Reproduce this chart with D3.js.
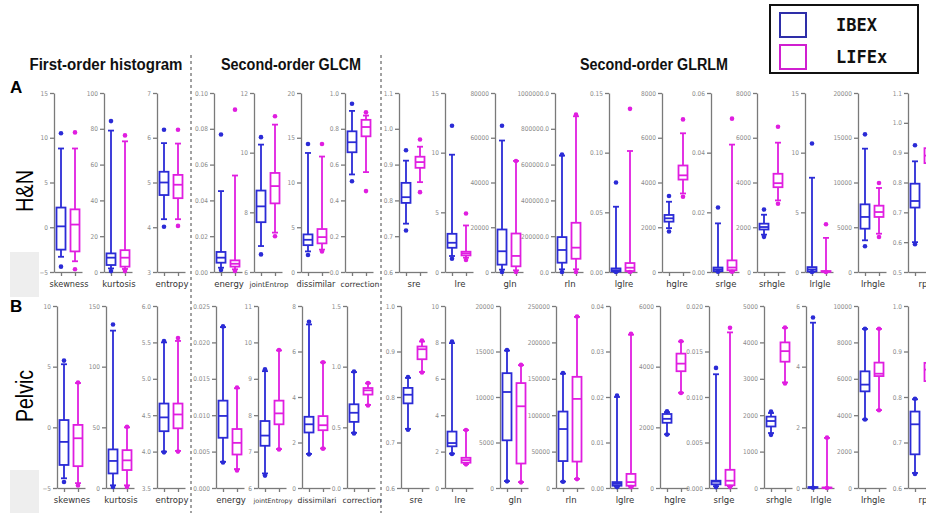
<!DOCTYPE html>
<meta charset="utf-8">
<style>
	body { margin: 0; background: #fff; overflow: hidden; }
	svg { display: block; }
	.yaxis path, .yaxis line, .xaxis path, .xaxis line { stroke: #7a7a7a; stroke-width: 1.3; }
	.yaxis text { fill: #8a8a8a; font-family: "DejaVu Sans Condensed", "DejaVu Sans", sans-serif; font-size: 6.5px; }
	.cat { fill: #333; font-family: "DejaVu Sans", sans-serif; font-size: 8.5px; text-anchor: middle; }
	.title { font-family: "Liberation Sans Narrow", "Liberation Sans", sans-serif; font-weight: bold; font-size: 16px; fill: #111; text-anchor: middle; }
	.legend { font-family: "DejaVu Sans Mono", monospace; font-weight: bold; font-size: 17px; fill: #111; }
</style>
<body>
<script src="https://d3js.org/d3.v7.min.js"></script>
<script>

	// features (one small panel each)
	var features = ["skewness", "kurtosis", "entropy", "energy", "jointEntropy", "dissimilar", "correction",
		"sre", "lre", "gln", "rln", "lglre", "hglre", "srlge", "srhgle", "lrlgle", "lrhgle", "rp"];
	var hnLabels = ["skewness", "kurtosis", "entropy", "energy", "jointEntrop", "dissimilar", "correction",
		"sre", "lre", "gln", "rln", "lglre", "hglre", "srlge", "srhgle", "lrlgle", "lrhgle", "rp"];
	var pelvicLabels = ["skewnes", "kurtosis", "entropy", "energy", "jointEntropy", "dissimilari", "correction",
		"sre", "lre", "gln", "rln", "lglre", "hglre", "srlge", "srhgle", "lrlgle", "lrhgle", "rp"];
	var series = ["IBEX", "LIFEx"];

	// y tick labels per panel, H&N
	var hnTicks = [
		[-5, 0, 5, 10, 15], [0, 20, 40, 60, 80, 100], [3, 4, 5, 6, 7],
		[0, 0.02, 0.04, 0.06, 0.08, 0.10], [6, 8, 10, 12], [0, 5, 10, 15, 20], [0, 0.2, 0.4, 0.6, 0.8, 1.0],
		[0.6, 0.7, 0.8, 0.9, 1.0, 1.1], [0, 5, 10, 15], [0, 20000, 40000, 60000, 80000],
		[0, 200000, 400000, 600000, 800000, 1000000], [0, 0.05, 0.10, 0.15], [0, 2000, 4000, 6000, 8000],
		[0, 0.02, 0.04, 0.06], [0, 2000, 4000, 6000, 8000], [0, 5, 10, 15], [0, 5000, 10000, 15000, 20000],
		[0.5, 0.6, 0.7, 0.8, 0.9, 1.0, 1.1]
	];
	var hnDecimals = [0, 0, 0, 2, 0, 0, 1, 1, 0, 0, 1, 2, 0, 2, 0, 0, 0, 1];

	// [low dot, low whisker, q1, median, q3, high whisker, high dot]
	var hnIBEX = [
		[-4.4, -3.3, -2.5, 0.1, 2.2, 8.8, 10.5],
		[0.5, 2, 3.9, 8, 10.4, 79, 84.3],
		[4.01, 4.18, 4.72, 5.0, 5.24, 5.88, 6.18],
		[0.0011, 0.0024, 0.0052, 0.008, 0.0112, 0.0452, 0.0768],
		[6.59, 6.87, 7.67, 8.2, 8.73, 10.27, 10.52],
		[1.9, 2.3, 3.0, 3.6, 4.2, 13.3, 14.3],
		[0.507, 0.545, 0.669, 0.725, 0.786, 0.90, 0.94],
		[0.716, 0.735, 0.793, 0.809, 0.849, 0.911, 0.94],
		[1.11, 1.34, 2.03, 2.45, 3.2, 9.83, 12.26],
		[0, 1050, 3290, 9270, 19000, 58760, 65350],
		[0, 15000, 52000, 123000, 195000, 650000, 656000],
		[0, 0.0002, 0.0005, 0.0015, 0.003, 0.0547, 0.075],
		[1810, 1960, 2250, 2400, 2550, 3140, 3400],
		[0.0001, 0.0002, 0.0003, 0.0009, 0.0015, 0.0163, 0.0216],
		[1570, 1670, 1900, 2010, 2160, 2560, 2790],
		[0, 0.01, 0.05, 0.22, 0.41, 7.9, 10.77],
		[2870, 3540, 4840, 6150, 7560, 13780, 15380],
		[0.593, 0.6, 0.716, 0.738, 0.796, 0.871, 0.925]
	];
	var hnLIFEx = [
		[-4.7, -3.8, -2.7, 0.3, 2.0, 8.8, 10.6],
		[0.5, 1.7, 3, 8, 12.2, 73, 76.3],
		[4.03, 4.18, 4.65, 4.95, 5.17, 5.87, 6.18],
		[0.0006, 0.0015, 0.003, 0.0046, 0.0065, 0.0539, 0.0907],
		[7.2, 7.32, 8.3, 8.88, 9.32, 10.94, 11.22],
		[2.3, 2.5, 3.2, 3.9, 4.8, 12.9, 14.3],
		[0.452, 0.558, 0.758, 0.81, 0.85, 0.874, 0.892],
		[0.823, 0.851, 0.891, 0.907, 0.922, 0.95, 0.97],
		[1.0, 1.2, 1.39, 1.56, 1.7, 3.9, 4.9],
		[0, 750, 2540, 7180, 17200, 49640, 49640],
		[0, 15000, 74000, 136000, 275000, 870000, 879000],
		[0, 0.0002, 0.0008, 0.0036, 0.0075, 0.1014, 0.1367],
		[3360, 3510, 4130, 4320, 4760, 6200, 6820],
		[0.0001, 0.0002, 0.0006, 0.0015, 0.0039, 0.0427, 0.0514],
		[3050, 3200, 3790, 3970, 4390, 5780, 6490],
		[0, 0.01, 0.02, 0.04, 0.08, 2.86, 4.0],
		[3910, 4280, 6150, 6700, 7410, 9390, 9940],
		[0.81, 0.83, 0.865, 0.89, 0.915, 0.95, 0.97]
	];

	// Pelvic
	var pelvicTicks = [
		[-5, 0, 5, 10], [0, 50, 100, 150], [3.5, 4.0, 4.5, 5.0, 5.5, 6.0],
		[0, 0.005, 0.010, 0.015, 0.020, 0.025], [6, 7, 8, 9, 10, 11], [0, 2, 4, 6, 8], [0, 0.5, 1.0, 1.5],
		[0.6, 0.7, 0.8, 0.9, 1.0], [0, 2, 4, 6, 8, 10], [0, 5000, 10000, 15000, 20000],
		[0, 50000, 100000, 150000, 200000, 250000], [0, 0.01, 0.02, 0.03, 0.04], [0, 2000, 4000, 6000],
		[0, 0.005, 0.010, 0.015, 0.020], [0, 1000, 2000, 3000, 4000, 5000], [0, 2, 4, 6],
		[0, 2000, 4000, 6000, 8000, 10000], [0.6, 0.7, 0.8, 0.9, 1.0]
	];
	var pelvicDecimals = [0, 0, 1, 3, 0, 0, 1, 1, 0, 0, 0, 2, 0, 3, 0, 0, 0, 1];

	var pelvicIBEX = [
		[-4.5, -4.2, -3.1, -1.2, 0.6, 5.2, 5.5],
		[0.8, 2.2, 12.0, 22.3, 31.8, 129.7, 134.7],
		[3.99, 4.0, 4.28, 4.47, 4.66, 5.5, 5.52],
		[0.0035, 0.0036, 0.0069, 0.0099, 0.012, 0.0221, 0.0222],
		[6.34, 6.4, 7.16, 7.44, 7.84, 9.21, 9.26],
		[1.48, 1.5, 2.44, 2.8, 3.13, 7.19, 7.31],
		[0.45, 0.455, 0.545, 0.62, 0.69, 0.955, 0.96],
		[0.728, 0.73, 0.786, 0.805, 0.82, 0.842, 0.844],
		[1.87, 1.89, 2.29, 2.47, 3.1, 7.96, 8.05],
		[730, 760, 5240, 10550, 12620, 15100, 15160],
		[8600, 8800, 37000, 81000, 105000, 157000, 158000],
		[0.0002, 0.0003, 0.0005, 0.0009, 0.0013, 0.02, 0.0203],
		[1760, 1770, 2150, 2280, 2440, 2500, 2530],
		[0.0001, 0.0002, 0.0004, 0.0007, 0.0008, 0.0125, 0.0132],
		[1460, 1510, 1690, 1840, 1960, 2060, 2100],
		[0.01, 0.01, 0.01, 0.02, 0.03, 5.45, 5.62],
		[3760, 3770, 5310, 5680, 6410, 8740, 8750],
		[0.631, 0.633, 0.674, 0.74, 0.768, 0.795, 0.796]
	];
	var pelvicLIFEx = [
		[-4.8, -4.6, -3.2, -0.9, 0.2, 3.65, 3.7],
		[0.8, 2.2, 14.8, 22.8, 31.2, 50, 50.4],
		[4.0, 4.01, 4.32, 4.51, 4.66, 5.52, 5.56],
		[0.0024, 0.0026, 0.0046, 0.0062, 0.0081, 0.0137, 0.0138],
		[7.06, 7.07, 7.75, 8.05, 8.4, 9.78, 9.79],
		[1.73, 1.74, 2.54, 2.76, 3.16, 5.52, 5.53],
		[0.68, 0.685, 0.77, 0.805, 0.824, 0.863, 0.865],
		[0.854, 0.855, 0.883, 0.905, 0.911, 0.922, 0.924],
		[1.3, 1.31, 1.39, 1.53, 1.66, 3.18, 3.19],
		[620, 650, 2690, 8980, 11530, 13500, 13530],
		[12200, 12500, 36300, 122400, 152700, 235000, 235600],
		[0.0002, 0.0003, 0.0005, 0.0013, 0.0031, 0.0337, 0.0339],
		[3130, 3140, 3850, 4100, 4430, 4830, 4840],
		[0.0001, 0.0002, 0.0003, 0.0008, 0.002, 0.0171, 0.0176],
		[2870, 2900, 3470, 3760, 4000, 4400, 4410],
		[0, 0, 0.005, 0.01, 0.015, 1.65, 1.66],
		[4270, 4280, 6150, 6280, 6890, 8740, 8750],
		[0.80, 0.81, 0.835, 0.86, 0.875, 0.9, 0.91]
	];

	var colors = ["#2b2bd6", "#e01ee0"];

	var rows = [
		{ name: "H&N", letter: "A", labels: hnLabels, ticks: hnTicks, dec: hnDecimals, stats: [hnIBEX, hnLIFEx],
		  top: 93, bottom: 272, nameY: 191, nameLen: 42, letterY: 93,
		  axisX: [54, 104, 157, 214, 254, 301, 345, 399, 445, 495, 555, 609, 662, 711, 757, 805, 858, 908] },
		{ name: "Pelvic", letter: "B", labels: pelvicLabels, ticks: pelvicTicks, dec: pelvicDecimals, stats: [pelvicIBEX, pelvicLIFEx],
		  top: 306, bottom: 488, nameY: 396, nameLen: 52, letterY: 312,
		  axisX: [57, 106, 157, 216, 258, 302, 347, 401, 445, 500, 556, 610, 660, 709, 764, 806, 858, 908] }
	];

	var svg = d3.select("body").append("svg")
		.attr("width", 926)
		.attr("height", 513);

	// grey patches at the left edge
	svg.append("rect").attr("x", 10).attr("y", 252).attr("width", 29).attr("height", 45).attr("fill", "#eeeeee");
	svg.append("rect").attr("x", 10).attr("y", 470).attr("width", 29).attr("height", 43).attr("fill", "#eeeeee");

	// section titles + dividers
	var titles = [
		{ text: "First-order histogram", x: 106, len: 153 },
		{ text: "Second-order GLCM", x: 291, len: 140 },
		{ text: "Second-order GLRLM", x: 654, len: 148 }
	];
	svg.selectAll(".title").data(titles).enter().append("text")
		.attr("class", "title")
		.attr("x", function(d) { return d.x; })
		.attr("y", 70)
		.attr("textLength", function(d) { return d.len; })
		.attr("lengthAdjust", "spacingAndGlyphs")
		.text(function(d) { return d.text; });

	[191, 381].forEach(function(x) {
		svg.append("line").attr("x1", x).attr("x2", x).attr("y1", 55).attr("y2", 513)
			.attr("stroke", "#444").attr("stroke-width", 1).attr("stroke-dasharray", "3,3");
	});

	rows.forEach(function(row) {
		// row letter and name
		svg.append("text").attr("x", 10).attr("y", row.letterY)
			.attr("font-family", "Liberation Sans, Arial, sans-serif").attr("font-weight", "bold")
			.attr("font-size", "17px").text(row.letter);
		svg.append("text")
			.attr("transform", "translate(33," + row.nameY + ") rotate(-90)")
			.attr("text-anchor", "middle")
			.attr("font-family", "Liberation Sans, Arial, sans-serif")
			.attr("font-size", "23px")
			.attr("textLength", row.nameLen)
			.attr("lengthAdjust", "spacingAndGlyphs")
			.text(row.name);

		features.forEach(function(f, i) {
			var ticks = row.ticks[i];
			var ax = row.axisX[i];
			var y = d3.scaleLinear()
				.domain([ticks[0], ticks[ticks.length - 1]])
				.range([row.bottom, row.top]);
			var x = d3.scalePoint()
				.domain(series)
				.range([ax, ax + 28])
				.padding(0.5);

			var g = svg.append("g");

			g.append("g")
				.attr("class", "yaxis")
				.attr("transform", "translate(" + ax + ",0)")
				.call(d3.axisLeft(y).tickValues(ticks)
					.tickFormat(d3.format("." + row.dec[i] + "f"))
					.tickSize(4).tickSizeOuter(0).tickPadding(2));

			g.append("g")
				.attr("class", "xaxis")
				.attr("transform", "translate(0," + row.bottom + ")")
				.call(d3.axisBottom(x).tickSize(4).tickSizeOuter(0).tickFormat(""));

			var lab = g.append("text")
				.attr("class", "cat")
				.attr("x", ax + 15)
				.attr("y", row.bottom + 15)
				.text(row.labels[i]);
			// long names were squeezed in the original figure: shrink them to fit
			var w = lab.node().getComputedTextLength();
			if (w > 39) {
				lab.style("font-size", (8.5 * 39 / w) + "px");
			}

			series.forEach(function(s, k) {
				var v = row.stats[k][i];
				var cx = x(s);
				var b = g.append("g")
					.attr("stroke", colors[k])
					.attr("stroke-width", 1.8)
					.attr("fill", "none");
				b.append("line")
					.attr("x1", cx).attr("x2", cx)
					.attr("y1", y(v[1])).attr("y2", y(v[5]));
				b.selectAll(".cap").data([v[1], v[5]]).enter().append("line")
					.attr("x1", cx - 3).attr("x2", cx + 3)
					.attr("y1", function(d) { return y(d); })
					.attr("y2", function(d) { return y(d); });
				b.append("rect")
					.attr("x", cx - 4.5)
					.attr("width", 9)
					.attr("y", y(v[4]))
					.attr("height", Math.max(y(v[2]) - y(v[4]), 0.5))
					.attr("fill", "#fff");
				b.append("line")
					.attr("x1", cx - 4.5).attr("x2", cx + 4.5)
					.attr("y1", y(v[3])).attr("y2", y(v[3]));
				b.selectAll("circle").data([v[0], v[6]]).enter().append("circle")
					.attr("cx", cx)
					.attr("cy", function(d) { return y(d); })
					.attr("r", 2.3)
					.attr("stroke", "none")
					.attr("fill", colors[k]);
			});
		});
	});

	// legend
	var legend = svg.append("g");
	legend.append("rect").attr("x", 770).attr("y", 5).attr("width", 148).attr("height", 68)
		.attr("fill", "#fff").attr("stroke", "#111").attr("stroke-width", 2);
	var legendColors = ["#2e2ea8", "#d01fd0"];
	series.forEach(function(s, k) {
		legend.append("rect")
			.attr("x", 780).attr("y", 13 + k * 32).attr("width", 26).attr("height", 24)
			.attr("fill", "none").attr("stroke", legendColors[k]).attr("stroke-width", 2);
		legend.append("text")
			.attr("class", "legend")
			.attr("x", 836).attr("y", 31 + k * 32)
			.text(s);
	});

</script>
</body>
